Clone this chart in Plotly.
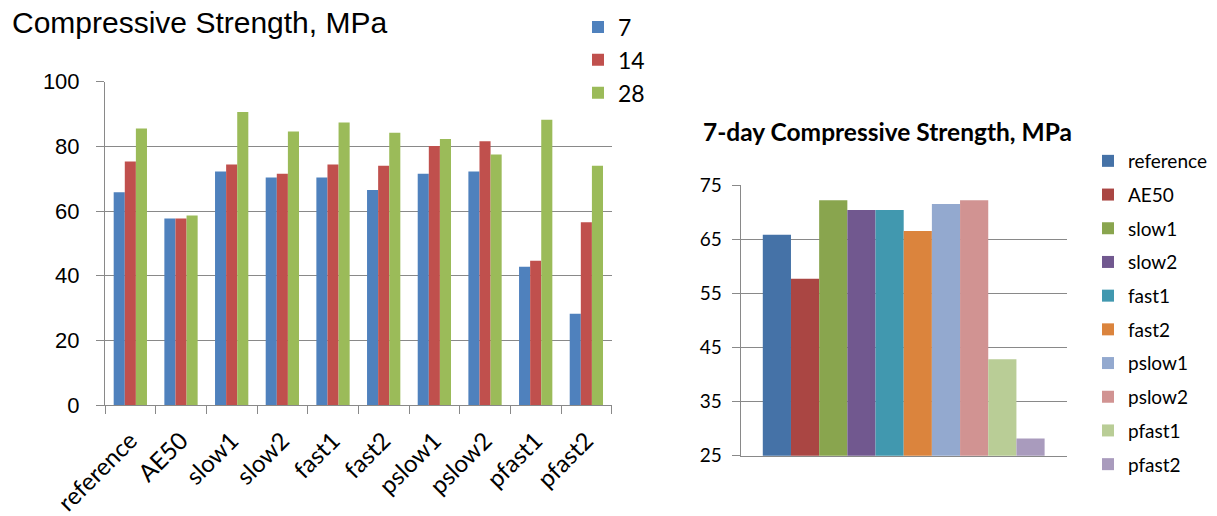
import plotly.graph_objects as go

# Mix designs and curing ages
mixes = ["reference", "AE50", "slow1", "slow2", "fast1", "fast2",
         "pslow1", "pslow2", "pfast1", "pfast2"]
ages = ["7", "14", "28"]

# Compressive strength (MPa) at each age
strength_7 = [65.8, 57.7, 72.2, 70.4, 70.4, 66.5, 71.5, 72.2, 42.8, 28.2]
strength_14 = [75.3, 57.7, 74.4, 71.5, 74.4, 74.0, 80.1, 81.6, 44.6, 56.5]
strength_28 = [85.5, 58.6, 90.6, 84.6, 87.4, 84.2, 82.3, 77.5, 88.2, 74.0]

age_colors = ["#4F81BD", "#C0504D", "#9BBB59"]
mix_colors = ["#4572A7", "#AA4643", "#89A54E", "#71588F", "#4198AF",
              "#DB843D", "#93A9CF", "#D19392", "#B9CD96", "#A99BBD"]

W, H = 1217, 516
GRID = "#898989"
CAL = "Lato, 'Open Sans', sans-serif"
ARIAL = "'Liberation Sans', Arial, sans-serif"


def px_x(p):
    return p / W


def px_y(p):
    return 1 - p / H


fig = go.Figure()

# Left chart: strength by age for every mix
for age, vals, col in zip(ages, [strength_7, strength_14, strength_28], age_colors):
    fig.add_trace(go.Bar(
        x=mixes, y=vals, name=age, marker_color=col, marker_line_width=0,
        xaxis="x", yaxis="y", legend="legend",
    ))

# Right chart: 7-day strength, one series per mix
for mix, val, col in zip(mixes, strength_7, mix_colors):
    fig.add_trace(go.Bar(
        x=["7-day"], y=[val], name=mix, marker_color=col, marker_line_width=0,
        xaxis="x2", yaxis="y2", legend="legend2", legendgroup=mix,
    ))

fig.update_layout(
    width=W, height=H,
    margin=dict(l=0, r=0, t=0, b=0, autoexpand=False),
    paper_bgcolor="white", plot_bgcolor="white",
    barmode="group", bargap=0.343, bargroupgap=0,
    xaxis=dict(
        domain=[px_x(105), px_x(611.7)], anchor="y", type="category",
        automargin=False,
        showline=True, linecolor=GRID, linewidth=1,
        ticks="outside", tickson="boundaries", ticklen=8, tickcolor=GRID,
        tickangle=-45, tickfont=dict(family=CAL, size=24, color="#000"),
        ticklabelstandoff=11,
        showgrid=False,
    ),
    yaxis=dict(
        domain=[px_y(405), px_y(81.7)], anchor="x", range=[0, 100], dtick=20,
        automargin=False,
        showline=True, linecolor=GRID, linewidth=1,
        ticks="outside", ticklen=8, tickcolor=GRID,
        showgrid=True, gridcolor=GRID, gridwidth=1, zeroline=False,
        tickfont=dict(family=ARIAL, size=22, color="#000"),
        ticklabelstandoff=12,
    ),
    xaxis2=dict(
        domain=[px_x(740.7), px_x(1066.7)], anchor="y2", type="category",
        range=[-0.38, 0.38], automargin=False,
        showline=True, linecolor=GRID, linewidth=1,
        showticklabels=False, ticks="", showgrid=False,
    ),
    yaxis2=dict(
        domain=[px_y(455.7), px_y(185)], anchor="x2", range=[25, 75],
        tick0=25, dtick=10, automargin=False,
        showline=True, linecolor=GRID, linewidth=1,
        ticks="outside", ticklen=8, tickcolor=GRID,
        showgrid=True, gridcolor=GRID, gridwidth=1, zeroline=False,
        tickfont=dict(family=CAL, size=19, color="#000"),
        ticklabelstandoff=6,
    ),
    legend=dict(
        x=px_x(578), y=px_y(5.5), xanchor="left", yanchor="top",
        font=dict(family=CAL, size=23, color="#000"),
        bgcolor="rgba(0,0,0,0)", borderwidth=0, traceorder="normal",
    ),
    legend2=dict(
        x=px_x(1088), y=px_y(142), xanchor="left", yanchor="top",
        font=dict(family=CAL, size=19, color="#000"),
        bgcolor="rgba(0,0,0,0)", borderwidth=0, traceorder="grouped",
        tracegroupgap=6,
    ),
    annotations=[
        dict(text="Compressive Strength, MPa", xref="paper", yref="paper",
             x=px_x(10), y=px_y(23), xanchor="left", yanchor="middle",
             showarrow=False, font=dict(family=ARIAL, size=30, color="#000")),
        dict(text="<b>7-day Compressive Strength, MPa</b>", xref="paper", yref="paper",
             x=px_x(887.5), y=px_y(131), xanchor="center", yanchor="middle",
             showarrow=False, font=dict(family=CAL, size=24.5, color="#000")),
    ],
)

fig.write_html("out.html")
